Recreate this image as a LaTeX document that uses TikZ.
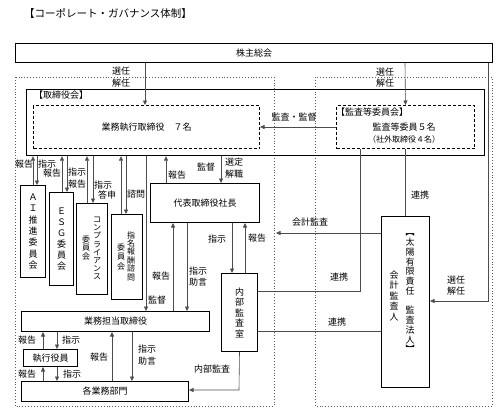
\documentclass[tikz,border=0pt]{standalone}
\usepackage{fontspec}
\setmainfont{Noto Sans CJK JP}
\usetikzlibrary{arrows.meta}

\begin{document}
\begin{tikzpicture}[x=1pt,y=-1pt,
  box/.style={draw,line width=1pt,inner sep=0pt,anchor=north west,font=\fontsize{9}{10}\selectfont},
  dbox/.style={box,dash pattern=on 3pt off 2pt},
  zone/.style={draw=black!65,dotted,line width=0.9pt},
  lbl/.style={font=\fontsize{9}{11.5}\selectfont,inner sep=0pt,align=center},
  conn/.style={draw=black!70,line width=0.6pt},
  arr/.style={conn,-{Triangle[length=4.5pt,width=4pt]}}
]
\useasboundingbox (0,0) rectangle (497,412);
\node[lbl,font=\fontsize{10.5}{12}\selectfont] (title) at (108,13) {【コーポレート・ガバナンス体制】};

% regions
\draw[zone] (15,77) rectangle (274,406);
\draw[zone] (315,77) rectangle (492,406);

% boxes
\node[box,minimum width=477pt,minimum height=19pt] (soukai) at (15,43) {株主総会};
\node[box,line width=1.2pt,minimum width=458pt,minimum height=66pt] (board) at (26,89) {};
\node[lbl,anchor=west] (boardlbl) at (34,95) {【取締役会】};
\node[dbox,minimum width=226pt,minimum height=43pt] (exec) at (33,105) {業務執行取締役　７名};
\node[dbox,minimum width=138pt,minimum height=43pt] (audit) at (336,105) {};
\node[lbl] (auditlbl) at (372,112) {【監査等委員会】};
\node[lbl] (auditnum) at (404,127) {監査等委員５名};
\node[lbl,font=\fontsize{8}{9}\selectfont] (auditout) at (404,139) {（社外取締役４名）};

\node[box,align=center,minimum width=25pt,minimum height=92pt,font=\fontsize{9}{11.3}\selectfont] (ai) at (20,185) {Ａ\\Ｉ\\推\\進\\委\\員\\会};
\node[box,align=center,minimum width=24pt,minimum height=93pt,font=\fontsize{9}{11}\selectfont] (esg) at (49,192) {Ｅ\\Ｓ\\Ｇ\\委\\員\\会};
\node[box,minimum width=31pt,minimum height=91pt] (comp) at (76,203) {};
\node[lbl,font=\fontsize{8}{8.2}\selectfont] (compa) at (97,248.5) {コ\\ン\\プ\\ラ\\イ\\ア\\ン\\ス};
\node[lbl,font=\fontsize{8}{8.5}\selectfont] (compb) at (86,247.5) {委\\員\\会};
\node[box,minimum width=31pt,minimum height=85pt] (shimei) at (111,214) {};
\node[lbl,font=\fontsize{8}{8.4}\selectfont] (shimeia) at (131,256) {指\\名\\報\\酬\\諮\\問};
\node[lbl,font=\fontsize{8}{9.5}\selectfont] (shimeib) at (121,256.5) {委\\員\\会};

\node[box,minimum width=109pt,minimum height=39pt] (shacho) at (150,183) {代表取締役社長};
\node[box,align=center,minimum width=36pt,minimum height=78pt,font=\fontsize{9}{10.5}\selectfont] (naibu) at (221,273) {内\\部\\監\\査\\室};
\node[box,minimum width=48pt,minimum height=171pt] (auditor) at (381,216) {};
\node[lbl,font=\fontsize{9}{9.75}\selectfont] (auditora) at (410,293.5) {︻\\太\\陽\\有\\限\\責\\任\\\mbox{}\\監\\査\\法\\人\\︼};
\node[lbl,font=\fontsize{9}{10.5}\selectfont] (auditorb) at (394,296) {会\\計\\監\\査\\人};

\node[box,minimum width=188pt,minimum height=20pt] (gyomu) at (21,311) {業務担当取締役};
\node[box,minimum width=54pt,minimum height=17pt] (shikko) at (23,349) {執行役員};
\node[box,minimum width=167pt,minimum height=20pt] (bumon) at (21,381) {各業務部門};

% shareholders
\draw[arr] (145,0 |- soukai.south) -- (145,0 |- exec.north);
\node[lbl] at (121,77) {選任\\解任};
\draw[arr] (405,0 |- soukai.south) -- (audit.north);
\node[lbl] at (385,77.5) {選任\\解任};
\draw[arr] (488,0 |- soukai.south) -- (488,301) -- (auditor.east |- 0,301);
\node[lbl] at (456,285.5) {選任\\解任};
\draw[arr] (audit.west |- 0,127) -- (exec.east |- 0,127);
\node[lbl] at (294,117) {監査・監督};

% committees
\draw[arr] (33,0 |- ai.north) -- (33,0 |- board.south);
\draw[arr] (37,0 |- board.south) -- (37,0 |- ai.north);
\draw[arr] (62,0 |- esg.north) -- (62,0 |- board.south);
\draw[arr] (67,0 |- board.south) -- (67,0 |- esg.north);
\draw[arr] (87,0 |- comp.north) -- (87,0 |- board.south);
\draw[arr] (93,0 |- board.south) -- (93,0 |- comp.north);
\draw[arr] (121,0 |- shimei.north) -- (121,0 |- board.south);
\draw[arr] (126,0 |- board.south) -- (126,0 |- shimei.north);
\node[lbl] at (24,164) {報告};
\node[lbl] at (47,164) {指示};
\node[lbl] at (52,173) {報告};
\node[lbl] at (77,172) {指示};
\node[lbl] at (77,184) {報告};
\node[lbl] at (103,185) {指示};
\node[lbl] at (107,195) {答申};
\node[lbl] at (136,194) {諮問};

% board and president
\draw[arr] (146,0 |- board.south) -- (146,0 |- gyomu.north);
\node[lbl] at (157,300) {監督};
\draw[arr] (166,0 |- shacho.north) -- (166,0 |- board.south);
\node[lbl] at (177,175) {報告};
\node[lbl] at (206,167) {監督};
\draw[arr] (221,0 |- board.south) -- (221,0 |- shacho.north);
\node[lbl] at (234,168) {選定\\解職};
\draw[arr] (173,0 |- gyomu.north) -- (173,0 |- shacho.south);
\node[lbl] at (161,276) {報告};
\draw[arr] (187,0 |- shacho.south) -- (187,0 |- gyomu.north);
\node[lbl] at (198,276.5) {指示\\助言};
\draw[arr] (232,0 |- shacho.south) -- (232,0 |- naibu.north);
\node[lbl] at (217,239) {指示};
\draw[arr] (245,0 |- naibu.north) -- (245,0 |- shacho.south);
\node[lbl] at (257,238) {報告};

% audit links
\coordinate (kansa) at (276,233);
\draw[arr] (auditor.west |- kansa) -- (kansa);
\node[lbl] at (310,222) {会計監査};
\draw[conn] (360,0 |- audit.south) -- (360,291) -- (naibu.east |- 0,291);
\node[lbl] at (339,277) {連携};
\draw[conn] (audit.south) -- (auditor.north);
\node[lbl] at (420,195) {連携};
\draw[conn] (naibu.east |- 0,331) -- (auditor.west |- 0,331);
\node[lbl] at (337,322) {連携};
\draw[arr] (naibu.south) -- (239,390) -- (bumon.east |- 0,390);
\node[lbl] at (212,369) {内部監査};

% execution
\draw[arr] (43,0 |- shikko.north) -- (43,0 |- gyomu.south);
\draw[arr] (57,0 |- gyomu.south) -- (57,0 |- shikko.north);
\node[lbl] at (27,340) {報告};
\node[lbl] at (71,340) {指示};
\draw[arr] (43,0 |- bumon.north) -- (43,0 |- shikko.south);
\draw[arr] (57,0 |- shikko.south) -- (57,0 |- bumon.north);
\node[lbl] at (27,374) {報告};
\node[lbl] at (72,374) {指示};
\draw[arr] (112,0 |- bumon.north) -- (112,0 |- gyomu.south);
\node[lbl] at (99,357) {報告};
\draw[arr] (132,0 |- gyomu.south) -- (132,0 |- bumon.north);
\node[lbl] at (147,355) {指示\\助言};
\end{tikzpicture}
\end{document}
